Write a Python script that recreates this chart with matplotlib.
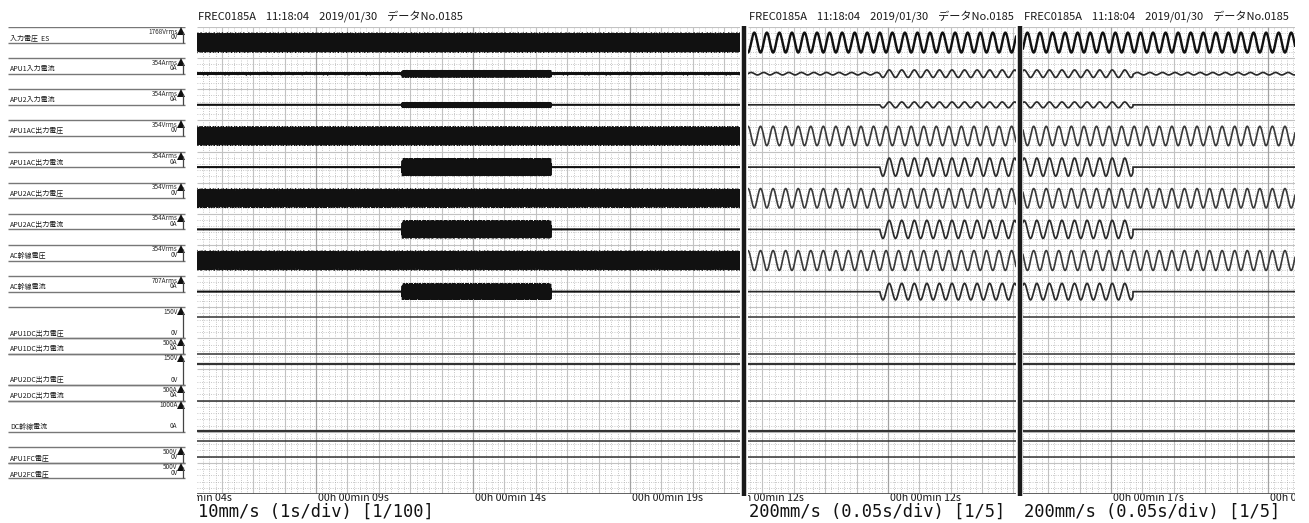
import numpy as np
import matplotlib.pyplot as plt

plt.rcParams['font.family'] = ['Liberation Sans Narrow', 'Noto Sans CJK JP', 'DejaVu Sans']

W, H = 1309, 523
GRID_TOP, GRID_BOT = 27, 494          # pixel rows of the chart paper
NDIV = 15                             # vertical divisions on the paper
FREQ = 50.0                           # mains frequency, Hz

# ---- channel table -------------------------------------------------------
names = ['入力電圧  ES', 'APU1入力電流', 'APU2入力電流', 'APU1AC出力電圧', 'APU1AC出力電流',
         'APU2AC出力電圧', 'APU2AC出力電流', 'AC幹線電圧', 'AC幹線電流',
         'APU1DC出力電圧', 'APU1DC出力電流', 'APU2DC出力電圧', 'APU2DC出力電流',
         'DC幹線電流', 'APU1FC電圧', 'APU2FC電圧']
scale_top = ['1768Vrms', '354Arms', '354Arms', '354Vrms', '354Arms', '354Vrms', '354Arms',
             '354Vrms', '707Arms', '150V', '500A', '150V', '500A', '1000A', '500V', '500V']
scale_zero = ['0V', '0A', '0A', '0V', '0A', '0V', '0A', '0V', '0A',
              '0V', '0A', '0V', '0A', '0A', '0V', '0V']
full_scale = [1768, 354, 354, 354, 354, 354, 354, 354, 707, 150, 500, 150, 500, 1000, 500, 500]
# zero / full-scale position of every channel, in divisions from the bottom
zero_div = [14.5, 13.5, 12.5, 11.5, 10.5, 9.5, 8.5, 7.5, 6.5, 5.0, 4.5, 3.5, 3.0, 2.0, 1.0, 0.5]
full_div = [15.0, 14.0, 13.0, 12.0, 11.0, 10.0, 9.0, 8.0, 7.0, 6.0, 5.0, 4.5, 3.5, 3.0, 1.5, 1.0]

# AC channels (first nine): peak value with no load / under load
ac_idle_pk = [1130, 28, 0, 220, 0, 220, 0, 225, 0]
ac_load_pk = [1130, 85, 65, 220, 205, 220, 205, 225, 375]
ac_phase = [0.0, 0.0, 0.0, np.pi, 0.0, np.pi, 0.0, np.pi, 0.0]   # relative to load-on
ac_kind = ['v', 'i', 'i', 'v', 'i', 'v', 'i', 'v', 'i']

# DC channels (last seven): steady readings
dc_value = [104, 3, 102, -4, 20, 700, 690]

# ---- the three recorder panels -------------------------------------------
panels = [
    dict(x0=197, x1=740, t0=5.21, t1=22.50, div=1.00, tick=9.0,
         on=11.74, off=16.48, ticks=[4, 9, 14, 19],
         speed='10mm/s (1s/div) [1/100]'),
    dict(x0=748, x1=1016, t0=11.777, t1=12.204, div=0.05, tick=12.0,
         on=11.987, off=17.035, ticks=[11.75, 12.0],
         speed='200mm/s (0.05s/div) [1/5]'),
    dict(x0=1023, x1=1295, t0=16.860, t1=17.293, div=0.05, tick=17.0,
         on=11.987, off=17.035, ticks=[17.0, 17.25],
         speed='200mm/s (0.05s/div) [1/5]'),
]
header = 'FREC0185A    11:18:04    2019/01/30    データNo.0185'

fig = plt.figure(figsize=(W / 100, H / 100), dpi=100)
fig.patch.set_facecolor('white')
yb = (H - GRID_BOT) / H
yh = (GRID_BOT - GRID_TOP) / H
px_div = (GRID_BOT - GRID_TOP) / NDIV


def level(ch, value):
    return zero_div[ch] + value / full_scale[ch] * (full_div[ch] - zero_div[ch])


def draw_grid(ax, p):
    t0, t1, d, tk = p['t0'], p['t1'], p['div'], p['tick']
    k = np.arange(np.ceil((t0 - tk) / d * 5), np.floor((t1 - tk) / d * 5) + 1)
    minor_x = tk + k[k % 5 != 0] * d / 5
    major_k = k[k % 5 == 0] / 5
    major_x = tk + major_k * d
    ys = np.round(np.arange(0, NDIV + 0.01, 0.2), 2)
    minor_y = ys[np.abs(ys - np.round(ys)) > 1e-6]
    ax.vlines(minor_x, 0, NDIV, colors='#a8a8a8', lw=0.55, linestyles=(0, (1, 2)))
    ax.hlines(minor_y, t0, t1, colors='#a8a8a8', lw=0.55, linestyles=(0, (1, 2)))
    ax.hlines(np.arange(0, NDIV + 1), t0, t1, colors='#c2c2c2', lw=0.8)
    strong = (np.round(major_k) % 5 == 0)
    ax.vlines(major_x[~strong], 0, NDIV, colors='#c2c2c2', lw=0.8)
    ax.vlines(major_x[strong], 0, NDIV, colors='#a2a2a2', lw=0.9)
    ax.hlines(0, t0, t1, colors='#555555', lw=1.3)


for n, p in enumerate(panels):
    ax = fig.add_axes([p['x0'] / W, yb, (p['x1'] - p['x0']) / W, yh])
    ax.set_xlim(p['t0'], p['t1'])
    ax.set_ylim(0, NDIV)
    ax.axis('off')
    draw_grid(ax, p)

    if n == 0:
        # 1/100 compressed record: samples land at scattered phases -> solid band
        dt = 0.382 / FREQ
        t = np.arange(p['t0'], p['t1'], dt)
    else:
        t = np.linspace(p['t0'], p['t1'], 4000)
    loaded = (t >= p['on']) & (t < p['off'])
    theta = 2 * np.pi * FREQ * (t - p['on'])

    for ch in range(9):
        pk = np.where(loaded, ac_load_pk[ch], ac_idle_pk[ch])
        if ac_kind[ch] == 'v':
            wave = np.cos(theta + ac_phase[ch])
            col, lw = ('#111111', 1.7) if ch == 0 else ('#3a3a3a', 1.2)
        else:
            wave = -np.sin(theta + ac_phase[ch])
            col, lw = '#2a2a2a', 1.25
        y = level(ch, pk * wave)
        if n == 0:
            col, lw = '#111111', 1.0 if ac_kind[ch] == 'v' else 1.5
        ax.plot(t, y, color=col, lw=lw, solid_joinstyle='miter')

    for j, val in enumerate(dc_value):
        ch = 9 + j
        lw = 1.6 if ch in (11, 13) else 1.1
        ax.plot([p['t0'], p['t1']], [level(ch, val)] * 2, color='#333333', lw=lw)

    # time stamps under the panel, clipped to the panel width
    tax = fig.add_axes([p['x0'] / W, 0, (p['x1'] - p['x0']) / W, yb])
    tax.set_xlim(p['t0'], p['t1'])
    tax.set_ylim(H, GRID_BOT)
    tax.axis('off')
    sec_px = (p['t1'] - p['t0']) / (p['x1'] - p['x0'])
    for tk in p['ticks']:
        tax.text(tk + 2 * sec_px, 498, '00h 00min %02ds' % round(tk), fontsize=7.7,
                 ha='left', va='center', color='#1a1a1a', clip_on=True)

    fig.text((p['x0'] + 1) / W, 1 - 16 / H, header, fontsize=8.0, ha='left', va='center',
             color='#1a1a1a')
    fig.text((p['x0'] + 1) / W, 1 - 512 / H, p['speed'], fontsize=12.3, ha='left',
             va='center', family='DejaVu Sans Mono', color='#111111')

# heavy separators between panels
over = fig.add_axes([0, 0, 1, 1], zorder=5)
over.set_xlim(0, W)
over.set_ylim(H, 0)
over.axis('off')
for xs in (744, 1020):
    over.plot([xs, xs], [GRID_TOP - 1, GRID_BOT + 2], color='#1a1a1a', lw=3.2,
              solid_capstyle='butt')

# channel name plates on the left
lab = fig.add_axes([0, yb, 190 / W, yh])
lab.set_xlim(0, 190)
lab.set_ylim(0, NDIV)
lab.axis('off')
d = 1 / px_div
for ch in range(16):
    lo, hi = zero_div[ch], full_div[ch]
    lab.hlines([lo, hi], 8, 185, colors='#777777', lw=1.0)
    lab.plot(181.4, hi - 4.0 * d, marker='^', ms=5.6, color='#111111', mew=0)
    lab.vlines(183.4, lo, hi - 4.5 * d, colors='#444444', lw=0.9)
    lab.text(177.5, hi - 4.5 * d, scale_top[ch], fontsize=4.6, ha='right', va='center',
             color='#2a2a2a')
    lab.text(177.5, lo + 5.5 * d, scale_zero[ch], fontsize=4.6, ha='right', va='center',
             color='#2a2a2a')
    lab.text(10, lo + 4.6 * d, names[ch], fontsize=5.0, ha='left', va='center',
             color='#1a1a1a')

fig.savefig('out.png', dpi=100, facecolor='white')
